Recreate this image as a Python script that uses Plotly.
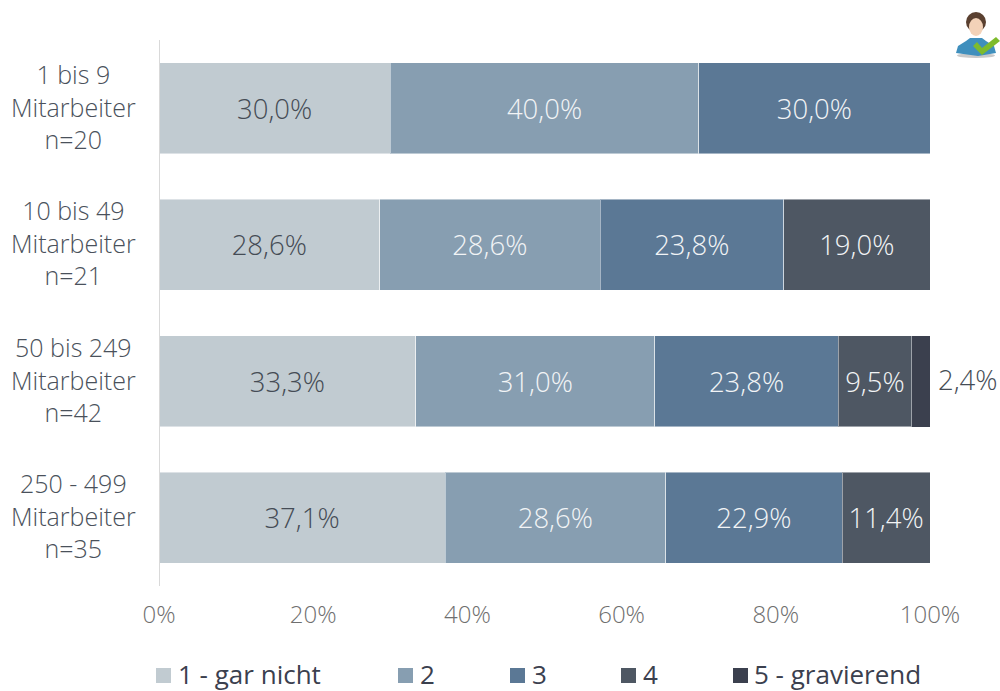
import plotly.graph_objects as go

categories = ["1 bis 9<br>Mitarbeiter<br>n=20", "10 bis 49<br>Mitarbeiter<br>n=21",
              "50 bis 249<br>Mitarbeiter<br>n=42", "250 - 499<br>Mitarbeiter<br>n=35"]
series_names = ["1 - gar nicht", "2", "3", "4", "5 - gravierend"]
s1 = [30.0, 28.6, 33.3, 37.1]
s2 = [40.0, 28.6, 31.0, 28.6]
s3 = [30.0, 23.8, 23.8, 22.9]
s4 = [None, 19.0, 9.5, 11.4]
s5 = [None, None, 2.4, None]
colors = ["#c1cbd1", "#879eb1", "#5b7895", "#4e5763", "#3b404e"]
label_colors = ["#454c55", "#f2f4f6", "#f2f4f6", "#f2f4f6", "#454c55"]
legend_x_px = [156, 398, 510, 621, 733]

W, H = 1000, 691
L, R, T, B = 159, 930, 40, 586
FONT = "Open Sans"
px = lambda v: (v - L) / (R - L)
py = lambda v: (B - v) / (B - T)

fig = go.Figure()
for name, vals, c, lc in zip(series_names, [s1, s2, s3, s4, s5], colors, label_colors):
    outer = name == series_names[-1]
    fig.add_bar(y=categories, x=vals, name=name, orientation="h",
                marker=dict(color=c, line=dict(color="rgba(255,255,255,0.45)", width=0 if outer else 1)),
                texttemplate=None if outer else "%{x:.1f}%", textposition="none" if outer else "inside",
                insidetextanchor="middle", constraintext="none", cliponaxis=False,
                textfont=dict(family=FONT, size=27.5, weight=300, color=lc), showlegend=False)

annotations = [dict(text=c, xref="paper", yref="y", x=px(73), y=c, xanchor="center", yanchor="middle",
                    yshift=2, align="center", showarrow=False,
                    font=dict(family=FONT, size=25, weight=300, color="#4a515b"))
               for c in categories]
# the narrow last segment carries its label outside the bar
for c, v in zip(categories, s5):
    if v is not None:
        annotations.append(dict(text=f"{v:.1f}%".replace(".", ","), xref="x", yref="y", x=100, y=c,
                                xanchor="left", yanchor="middle", xshift=6, yshift=2, showarrow=False,
                                font=dict(family=FONT, size=27.5, weight=300, color=label_colors[4])))
# axis line, centred on the zero position
shapes = [dict(type="line", xref="x", yref="paper", x0=0, x1=0, y0=0, y1=1, layer="above",
               line=dict(color="#d9d9d9", width=2))]
for name, c, lx, dx in zip(series_names, colors, legend_x_px, [20, 20, 20, 20, 19]):
    shapes.append(dict(type="rect", xref="paper", yref="paper", x0=px(lx), x1=px(lx + 15),
                       y0=py(683), y1=py(668), fillcolor=c, line_width=0))
    annotations.append(dict(text=name, xref="paper", yref="paper", x=px(lx + dx), y=py(673.8),
                            xanchor="left", yanchor="middle", showarrow=False,
                            font=dict(family=FONT, size=26, color="#3b404e")))

# small user icon, top right
def blob(kind, x0, y0, x1, y1, col):
    shapes.append(dict(type=kind, xref="paper", yref="paper", x0=px(x0), x1=px(x1),
                       y0=py(y1), y1=py(y0), fillcolor=col, line_width=0))
def poly(pts, col):
    d = "M" + " L".join(f"{px(a)},{py(b)}" for a, b in pts) + " Z"
    shapes.append(dict(type="path", xref="paper", yref="paper", path=d, fillcolor=col, line_width=0))
blob("circle", 957, 53, 995, 58, "#c9c9c9")
poly([(956, 53), (958, 46), (966, 41), (970, 38), (982, 38), (986, 41), (994, 46), (996, 53), (978, 56)], "#3f8fbd")
blob("circle", 966, 12, 986, 32, "#5a4030")
blob("circle", 969, 18, 983, 36, "#f3d2b8")
poly([(973, 46), (982, 55), (1000, 41), (996, 37), (982, 48), (977, 42)], "#7ebb2c")

fig.update_layout(
    barmode="stack", bargap=0.33, width=W, height=H, autosize=False,
    separators=",.", paper_bgcolor="white", plot_bgcolor="white",
    margin=dict(l=L, r=W - R, t=T, b=H - B),
    xaxis=dict(range=[0, 100], dtick=20, ticksuffix="%", showgrid=False, zeroline=False,
               ticks="", ticklabelstandoff=12,
               tickfont=dict(family=FONT, size=24, weight=300, color="#6f6f6f")),
    yaxis=dict(autorange="reversed", showticklabels=False, ticks="", showgrid=False, zeroline=False),
    annotations=annotations, shapes=shapes,
)
fig.write_html("out.html", config=dict(displayModeBar=False),
               post_script="document.body.style.margin='0';")
